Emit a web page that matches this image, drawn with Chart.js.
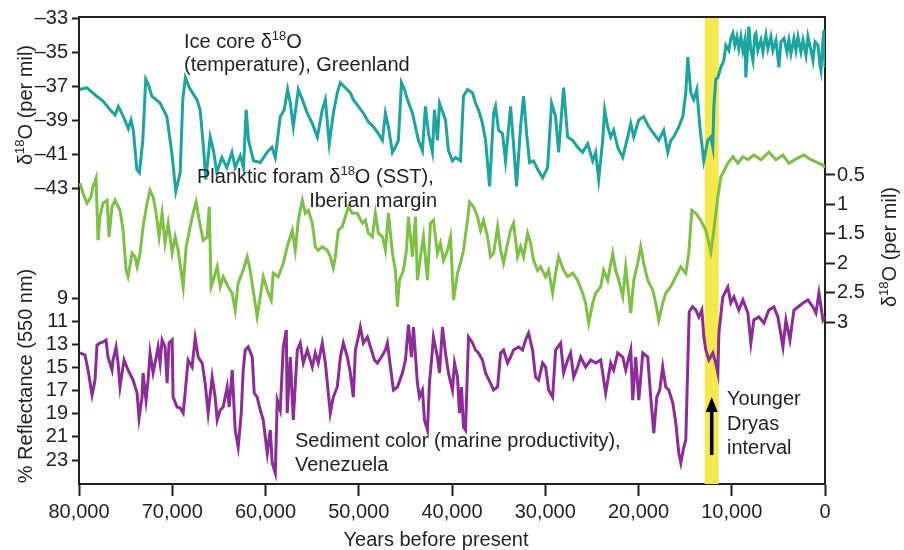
<!DOCTYPE html>
<html>
<head>
<meta charset="utf-8">
<title>Younger Dryas records</title>
<script src="https://cdn.jsdelivr.net/npm/chart.js@4"></script>
<style>
  html, body { margin: 0; padding: 0; background: #fff; }
  #wrap { width: 904px; height: 550px; position: relative; }
</style>
</head>
<body>
<div id="wrap"><canvas id="chart"></canvas></div>
<script>
// Greenland ice core d18O (per mil), years before present
const iceYears = [
  79890, 79170, 78100, 77390, 76670, 76130, 75780, 75240, 74710, 74420,
  74170, 73800, 73520, 73160, 72840, 72560, 72190, 71300, 70580, 70050,
  69620, 69150, 68870, 68590, 68160, 67360, 67010, 66650, 66400, 65930,
  65580, 65220, 64680, 64140, 63600, 63250, 62710, 62360, 62070, 61820,
  61280, 60560, 59840, 59310, 58950, 58420, 57990, 57630, 57340, 57020,
  56480, 56050, 55520, 54980, 54440, 53910, 53580, 53160, 52730, 52300,
  51970, 51440, 50900, 50580, 50040, 49500, 48970, 48430, 47890, 47460,
  47140, 46820, 46390, 46070, 45750, 45420, 45100, 44780, 44240, 43920,
  43600, 43170, 42850, 42520, 42100, 41880, 41560, 41340,
  40700, 40380, 39950, 39630, 39090, 38770, 38340, 37800, 37480, 37160,
  36730, 36400, 35970, 35540, 35330, 35010, 34580, 34260, 33720, 33400,
  33080, 32650, 32320, 32000, 31680, 31250, 30820, 30280, 29750, 29320,
  28890, 28570, 28030, 27600, 27060, 26530, 25990, 25450, 24910, 24590,
  24270, 23840, 23630, 23300, 22980, 22660, 22230, 21690, 21160, 20830,
  20510, 19970, 19440, 18900, 18360, 17830, 17290, 16860, 16540, 16220,
  15680, 15250, 14930, 14710, 14390, 14070, 13750, 13420, 13000, 12570,
  12240, 12030, 11920, 11710, 11490, 11170,
  10850, 10630, 10310, 10100, 9880, 9670, 9450, 9240, 9020, 8810,
  8590, 8490, 8270, 8170, 7950, 7730, 7520, 7410, 7200, 6870,
  6660, 6340, 6120, 5800, 5590, 5260, 4940, 4730, 4400, 4080,
  3870, 3650, 3330, 3120, 2900, 2580, 2360, 2040, 1830, 1510,
  1290, 1070, 750, 540, 430, 220, 110, 0
];
const iceD18O = [
  -37.2, -37.1, -37.6, -37.9, -38.4, -38.7, -38.2, -38.8, -39.5, -39.0,
  -39.6, -41.9, -42.1, -40.2, -36.6, -36.9, -37.6, -38.0, -38.8, -40.9,
  -43.2, -42.1, -37.8, -36.5, -37.1, -37.8, -38.4, -40.6, -42.5, -40.0,
  -40.8, -42.1, -41.2, -41.8, -40.9, -41.8, -41.1, -41.8, -38.4, -40.2,
  -41.4, -41.5, -40.9, -40.6, -41.2, -38.8, -38.4, -37.2, -38.0, -39.4,
  -37.2, -37.8, -38.6, -39.2, -40.0, -38.4, -37.8, -40.4, -38.6, -37.4,
  -36.8, -37.1, -37.4, -37.8, -38.2, -38.6, -39.1, -39.4, -39.8, -40.2,
  -38.6, -39.4, -40.9, -40.6, -40.2, -36.8, -37.2, -37.8, -38.6, -39.4,
  -40.2, -40.8, -38.2, -39.8, -40.9, -38.4, -40.2, -38.0,
  -39.0, -40.8, -41.4, -41.2, -41.4, -37.6, -37.2, -37.4, -38.0, -38.4,
  -39.2, -40.2, -42.9, -38.6, -38.2, -39.6, -39.8, -41.4, -38.2, -40.4,
  -42.9, -39.4, -37.6, -39.8, -41.5, -41.4, -41.9, -42.4, -41.8, -38.0,
  -38.8, -40.9, -37.1, -40.0, -40.2, -40.6, -40.9, -40.4, -41.4, -40.9,
  -42.5, -40.2, -38.4, -39.4, -40.0, -39.6, -40.6, -41.2, -40.0, -39.2,
  -40.0, -39.0, -38.8, -39.4, -39.8, -40.2, -39.6, -40.9, -40.2, -40.0,
  -39.4, -38.8, -37.4, -35.3, -37.4, -37.8, -37.2, -39.4, -41.4, -40.2,
  -40.0, -40.6, -38.2, -36.6, -36.5, -35.9,
  -35.5, -34.6, -34.9, -34.2, -33.9, -34.6, -34.1, -34.8, -34.1, -34.9,
  -34.3, -36.5, -34.6, -33.5, -34.9, -35.5, -34.0, -33.9, -34.9, -34.3,
  -35.0, -34.0, -34.8, -34.1, -34.9, -34.3, -35.9, -34.4, -34.2, -35.0,
  -34.3, -35.1, -34.2, -34.9, -34.1, -35.0, -34.3, -35.2, -34.1, -34.9,
  -35.5, -34.4, -34.6, -35.8, -36.1, -34.3, -33.7, -35.9
];

// Iberian margin planktic foram d18O (per mil)
const foramYears = [
  79890, 79570, 79140, 78710, 78500, 78170, 77960, 77750, 77420, 76990,
  76780, 76460, 76130, 75600, 75270, 74950, 74740, 74310, 73990, 73770,
  73450, 73130, 72700, 72380, 72050, 71730, 71410, 71090, 70770, 70440,
  70010, 69690, 69370, 68830, 68510, 68080, 67760, 67440, 67110, 66680,
  66260, 66040, 65830, 65610, 65180, 64860, 64540, 64000, 63570, 63250,
  62930, 62390, 61960, 61640, 61320, 60890, 60560, 60240, 59810, 59380,
  59170, 58630, 58090, 57670, 57130, 56810, 56480, 56050, 55730, 55410,
  54980, 54660, 54340, 53910, 53370, 53050, 52730, 52510, 52190, 51760,
  51440, 51110, 50680, 50150, 49610, 49290, 48970, 48540, 48220, 47890,
  47460, 47140, 46820, 46390, 46070, 45850, 45640, 45210, 44890, 44670,
  44240, 43920, 43710, 43380, 43060, 42630, 42310, 41990, 41560, 41240,
  40910, 40480, 40160, 39840, 39410, 39090, 38770, 38340, 38120, 37690,
  37260, 36940, 36620, 36190, 35870, 35540, 35110, 34790, 34470, 34040,
  33720, 33400, 32970, 32650, 32320, 31890, 31570, 31250, 30820, 30500,
  29960, 29640, 29210, 28890, 28570, 28030, 27600, 27060, 26530, 25990,
  25670, 25340, 24910, 24590, 24050, 23730, 23300, 22770, 22450, 22120,
  21690, 21370, 20830, 20510, 20080, 19760, 19440, 19010, 18470, 18150,
  17830, 17400, 17080, 16540, 16000, 15460, 14930, 14610, 14280, 13850,
  13320, 12780, 12240, 11920, 11490, 11170, 10960, 10420, 9880, 9340,
  8810, 8270, 7630, 6870, 6020, 5260, 4510, 3870, 2900, 2260,
  1510, 220, 0
];
const foramD18O = [
  0.64, 0.81, 0.98, 0.87, 0.70, 0.55, 1.61, 1.21, 0.98, 0.93,
  1.55, 1.04, 0.93, 1.10, 1.44, 2.12, 2.23, 1.83, 1.89, 2.06,
  1.83, 1.38, 0.98, 0.76, 0.87, 1.15, 1.55, 1.15, 1.66, 1.32,
  1.83, 1.55, 1.78, 2.40, 1.72, 1.38, 1.15, 0.96, 1.27, 1.61,
  1.55, 1.04, 2.40, 2.29, 2.06, 2.40, 2.23, 2.40, 2.51, 2.80,
  2.34, 2.12, 1.89, 2.12, 2.46, 2.91, 2.57, 2.23, 2.46, 2.63,
  2.17, 2.23, 2.00, 1.72, 1.44, 1.78, 1.27, 0.93, 1.15, 1.10,
  1.32, 1.72, 1.78, 1.72, 1.78, 1.89, 2.08, 1.89, 1.44, 1.38,
  1.21, 1.04, 1.15, 1.15, 1.32, 1.27, 1.49, 1.55, 1.15, 1.49,
  1.55, 1.78, 1.15, 1.83, 2.12, 2.74, 2.29, 2.12, 1.78, 1.21,
  1.89, 1.21, 2.29, 1.89, 1.55, 2.29, 1.32, 1.27, 1.83, 1.66,
  1.95, 1.78, 1.55, 2.63, 2.17, 2.00, 1.78, 1.27, 0.96, 1.04,
  1.21, 1.44, 1.27, 1.55, 1.89, 1.83, 1.38, 1.78, 2.00, 1.66,
  1.44, 1.32, 1.89, 1.72, 1.89, 1.49, 1.66, 1.95, 2.12, 2.06,
  2.23, 2.12, 2.51, 2.17, 1.89, 2.12, 2.23, 2.17, 2.29, 2.51,
  2.68, 3.02, 2.68, 2.51, 2.40, 2.12, 2.29, 1.83, 2.12, 2.29,
  2.57, 2.06, 2.85, 2.29, 2.00, 1.72, 2.00, 2.29, 2.46, 2.68,
  2.97, 2.68, 2.51, 2.40, 2.23, 2.06, 2.17, 1.83, 1.10, 1.15,
  1.27, 1.44, 1.81, 1.44, 0.87, 0.53, 0.47, 0.30, 0.19, 0.30,
  0.19, 0.24, 0.16, 0.24, 0.11, 0.24, 0.16, 0.30, 0.21, 0.16,
  0.24, 0.33, 0.38
];

// Venezuela sediment colour, % reflectance at 550 nm
const sedYears = [
  79890, 79360, 79030, 78600, 78280, 78070, 77750, 77420, 77100, 76890,
  76460, 76350, 76030, 75810, 75600, 75170, 74740, 74200, 73770, 73560,
  73240, 73130, 72810, 72590, 72380, 72050, 71840, 71520, 71300, 71090,
  70770, 70550, 70340, 70010, 69910, 69480, 69150, 68830, 68620, 68300,
  67870, 67540, 67220, 66790, 66470, 66150, 65720, 65400, 65180, 64860,
  64540, 64110, 63890, 63570, 63250, 62930, 62600, 62390, 62170, 61850,
  61420, 61210, 60890, 60560, 60240, 59810, 59490, 59280, 58950, 58740,
  58420, 58090, 57770, 57670, 57340, 57020, 56590, 56270, 55950, 55520,
  54980, 54660, 54340, 53910, 53580, 53050, 52730, 52300, 51970, 51650,
  51220, 50900, 50580, 50360, 50040, 49830, 49500, 49070, 48640, 48320,
  48000, 47570, 47140, 46930, 46600, 46280, 45850, 45320, 44990, 44670,
  44350, 44130, 43710, 43490, 43170, 42950, 42630, 42420, 42100, 41990,
  41560, 41340, 41020, 40700, 40380, 39950, 39730, 39410, 39200, 38980,
  38770, 38550, 38230, 37800, 37480, 37160, 36730, 36400, 35870, 35540,
  35110, 34790, 34470, 34040, 33720, 33400, 32860, 32430, 32110, 31790,
  31360, 31040, 30710, 30280, 29960, 29640, 29210, 28890, 28350, 28030,
  27600, 27280, 26950, 26530, 26200, 25670, 25130, 24590, 24050, 23520,
  22980, 22660, 22230, 21690, 21370, 20830, 20620, 20300, 19970, 19540,
  19010, 18690, 18360, 18040, 17720, 17400, 17080, 16750, 16320, 16000,
  15680, 15460, 15140, 14930, 14710, 14560, 14210, 13850, 13530, 13210,
  12990, 12780, 12460, 12030, 11710, 11490, 11380, 10960, 10420, 10100,
  9770, 9240, 8810, 8270, 7950, 7630, 7090, 6550, 6020, 5480,
  5050, 4510, 4190, 3760, 3330, 2900, 2360, 1830, 1290, 970,
  650, 220, 0
];
const sedReflectance = [
  13.75, 13.93, 15.22, 17.38, 16.09, 13.06, 12.89, 12.80, 12.63, 14.10,
  15.22, 14.36, 13.23, 14.62, 16.69, 14.36, 15.22, 16.09, 17.21, 19.37,
  17.56, 15.48, 17.82, 16.09, 13.75, 15.48, 14.62, 13.23, 14.62, 12.63,
  13.23, 16.35, 12.89, 12.63, 17.56, 18.42, 18.51, 18.94, 17.21, 14.36,
  14.96, 12.46, 14.10, 14.62, 16.35, 18.94, 15.83, 17.56, 19.54, 18.68,
  18.42, 16.69, 18.42, 15.22, 20.41, 21.88, 18.94, 15.22, 13.49, 13.23,
  14.10, 17.21, 17.56, 18.68, 19.54, 22.40, 20.41, 23.26, 24.12, 17.82,
  18.68, 13.23, 11.77, 18.94, 14.10, 19.54, 13.49, 12.89, 14.62, 13.49,
  14.96, 13.75, 14.62, 12.89, 14.62, 18.94, 17.56, 16.69, 14.10, 12.89,
  14.10, 15.48, 17.56, 13.49, 12.37, 11.51, 12.89, 12.37, 13.49, 14.36,
  14.62, 14.10, 13.49, 12.89, 14.96, 16.95, 16.69, 15.48, 14.36, 11.30,
  14.10, 11.51, 16.35, 17.56, 16.95, 19.54, 20.41, 16.35, 13.49, 12.37,
  14.10, 15.48, 11.51, 13.75, 15.48, 16.95, 14.62, 15.83, 18.94, 16.69,
  20.15, 20.41, 12.37, 12.89, 13.49, 13.75, 14.36, 15.48, 16.35, 16.95,
  16.69, 13.75, 13.49, 14.62, 14.10, 13.49, 13.23, 13.49, 12.63, 12.02,
  13.49, 15.83, 16.09, 14.62, 14.96, 16.95, 17.56, 13.49, 12.89, 15.48,
  14.36, 13.75, 15.83, 14.96, 14.10, 14.96, 14.36, 14.62, 14.36, 17.21,
  14.62, 15.22, 13.75, 14.10, 15.22, 13.49, 17.82, 14.10, 17.82, 13.75,
  14.10, 17.56, 20.67, 17.56, 16.95, 14.96, 16.69, 16.95, 18.07, 19.80,
  22.40, 23.26, 21.88, 21.27, 14.62, 10.20, 9.75, 10.04, 10.64, 10.04,
  12.37, 13.49, 14.36, 13.75, 14.62, 15.48, 12.02, 8.91, 8.05, 9.43,
  8.91, 10.04, 9.17, 10.30, 12.89, 10.90, 10.64, 11.16, 10.04, 9.78,
  10.64, 13.23, 10.90, 12.63, 10.04, 9.78, 9.43, 9.17, 9.78, 10.30,
  8.57, 10.90, 10.60
];

// axis ticks
const yearTicks = [80000, 70000, 60000, 50000, 40000, 30000, 20000, 10000, 0];
const iceTicks = [-33, -35, -37, -39, -41, -43];
const foramTicks = [0.5, 1, 1.5, 2, 2.5, 3];
const reflTicks = [9, 11, 13, 15, 17, 19, 21, 23];

// Younger Dryas interval (years BP)
const youngerDryas = [12900, 11400];

const FONT = '"Liberation Sans", Arial, Helvetica, sans-serif';
const INK = '#231f20';

Chart.defaults.font.family = FONT;
Chart.defaults.font.size = 20;
Chart.defaults.color = INK;

function pairs(xs, ys) {
  return xs.map((x, i) => ({ x: x, y: ys[i] }));
}

function fixedTicks(list) {
  return function(scale) {
    scale.ticks = list.map(v => ({ value: v }));
  };
}

// draws text made of pieces, some of them superscript
function drawRich(ctx, parts, x, y, align) {
  let width = 0;
  parts.forEach(p => {
    ctx.font = p[1] ? '13px ' + FONT : '20px ' + FONT;
    width += ctx.measureText(p[0]).width;
  });
  let cx = align === 'center' ? x - width / 2 : (align === 'right' ? x - width : x);
  ctx.textAlign = 'left';
  ctx.textBaseline = 'alphabetic';
  parts.forEach(p => {
    ctx.font = p[1] ? '13px ' + FONT : '20px ' + FONT;
    ctx.fillText(p[0], cx, p[1] ? y - 8 : y);
    cx += ctx.measureText(p[0]).width;
  });
}

const d18O = [['\u03b4'], ['18', true], ['O (per mil)']];

const decorations = {
  id: 'decorations',
  afterLayout(chart) {
    // the reflectance axis shares the left side with the ice core axis;
    // widen its box so its labels are not clipped
    const refl = chart.scales.yRefl;
    refl.left = 0;
  },
  beforeDatasetsDraw(chart) {
    const ctx = chart.ctx;
    const area = chart.chartArea;
    const xs = chart.scales.x;
    const x1 = xs.getPixelForValue(youngerDryas[0]);
    const x2 = xs.getPixelForValue(youngerDryas[1]);
    ctx.save();
    ctx.fillStyle = '#f4e84c';
    ctx.fillRect(x1, area.top, x2 - x1, area.bottom - area.top);
    ctx.restore();
  },
  afterDraw(chart) {
    const ctx = chart.ctx;
    const area = chart.chartArea;
    const xs = chart.scales.x;
    ctx.save();

    // top frame line
    ctx.strokeStyle = INK;
    ctx.lineWidth = 2;
    ctx.beginPath();
    ctx.moveTo(area.left, area.top);
    ctx.lineTo(area.right + 1, area.top);
    ctx.stroke();

    ctx.fillStyle = INK;

    // series labels
    drawRich(ctx, [['Ice core \u03b4'], ['18', true], ['O']], 184, 48, 'left');
    drawRich(ctx, [['(temperature), Greenland']], 184, 71, 'left');
    drawRich(ctx, [['Planktic foram \u03b4'], ['18', true], ['O (SST),']], 197, 183, 'left');
    drawRich(ctx, [['Iberian margin']], 437, 207, 'right');
    drawRich(ctx, [['Sediment color (marine productivity),']], 295, 447, 'left');
    drawRich(ctx, [['Venezuela']], 295, 471, 'left');
    drawRich(ctx, [['Younger']], 727, 405, 'left');
    drawRich(ctx, [['Dryas']], 727, 430, 'left');
    drawRich(ctx, [['interval']], 727, 454, 'left');

    // arrow pointing at the Younger Dryas band
    const ax = xs.getPixelForValue((youngerDryas[0] + youngerDryas[1]) / 2);
    ctx.strokeStyle = '#000';
    ctx.fillStyle = '#000';
    ctx.lineWidth = 3.5;
    ctx.beginPath();
    ctx.moveTo(ax, 455);
    ctx.lineTo(ax, 408);
    ctx.stroke();
    ctx.beginPath();
    ctx.moveTo(ax, 397);
    ctx.lineTo(ax - 6, 412);
    ctx.lineTo(ax + 6, 412);
    ctx.closePath();
    ctx.fill();

    // axis titles
    ctx.fillStyle = INK;
    drawRich(ctx, [['Years before present']], 436, 546, 'center');

    ctx.save();
    ctx.translate(32, 105);
    ctx.rotate(-Math.PI / 2);
    drawRich(ctx, d18O, 0, 0, 'center');
    ctx.restore();

    ctx.save();
    ctx.translate(32, 376);
    ctx.rotate(-Math.PI / 2);
    drawRich(ctx, [['% Reflectance (550 nm)']], 0, 0, 'center');
    ctx.restore();

    ctx.save();
    ctx.translate(896, 247);
    ctx.rotate(-Math.PI / 2);
    drawRich(ctx, d18O, 0, 0, 'center');
    ctx.restore();

    ctx.restore();
  }
};

function axisStyle(tickLength) {
  return {
    grid: { drawOnChartArea: false, drawTicks: true, tickLength: tickLength, tickWidth: 2, tickColor: INK },
    border: { display: true, color: INK, width: 2 }
  };
}

const ctx = document.getElementById('chart').getContext('2d');
new Chart(ctx, {
  type: 'line',
  data: {
    datasets: [
      {
        label: 'Ice core d18O, Greenland',
        data: pairs(iceYears, iceD18O),
        yAxisID: 'yIce',
        borderColor: '#1aa59e',
        borderWidth: 3,
        pointRadius: 0,
        tension: 0
      },
      {
        label: 'Planktic foram d18O, Iberian margin',
        data: pairs(foramYears, foramD18O),
        yAxisID: 'yForam',
        borderColor: '#7dc144',
        borderWidth: 3,
        pointRadius: 0,
        tension: 0
      },
      {
        label: 'Sediment color, Venezuela',
        data: pairs(sedYears, sedReflectance),
        yAxisID: 'yRefl',
        borderColor: '#8b2c98',
        borderWidth: 3,
        pointRadius: 0,
        tension: 0
      }
    ]
  },
  options: {
    responsive: true,
    maintainAspectRatio: false,
    animation: false,
    layout: { padding: { top: 17, left: 0, right: 0, bottom: 0 } },
    plugins: {
      legend: { display: false },
      tooltip: { enabled: false }
    },
    scales: {
      x: Object.assign({
        type: 'linear',
        min: 0,
        max: 80000,
        reverse: true,
        afterBuildTicks: fixedTicks(yearTicks),
        afterFit: s => { s.height = 66; },
        ticks: {
          padding: 4,
          maxRotation: 0,
          autoSkip: false,
          callback: v => v.toLocaleString('en-US')
        }
      }, axisStyle(12)),
      yIce: Object.assign({
        type: 'linear',
        position: 'left',
        weight: 1,
        min: -60.41,
        max: -32.94,
        afterBuildTicks: fixedTicks(iceTicks),
        afterFit: s => { s.width = 79; },
        ticks: { padding: 4, callback: v => '\u2013' + Math.abs(v) }
      }, axisStyle(7)),
      yRefl: Object.assign({
        type: 'linear',
        position: 'left',
        weight: 0,
        reverse: true,
        min: -15.28,
        max: 25.07,
        afterBuildTicks: fixedTicks(reflTicks),
        afterFit: s => { s.width = 0; },
        ticks: { padding: 4, autoSkip: false, callback: v => String(v) }
      }, axisStyle(7)),
      yForam: Object.assign({
        type: 'linear',
        position: 'right',
        reverse: true,
        min: -2.187,
        max: 5.755,
        afterBuildTicks: fixedTicks(foramTicks),
        afterFit: s => { s.width = 79; },
        ticks: { padding: 2, callback: v => String(v) }
      }, axisStyle(10))
    }
  },
  plugins: [decorations]
});
</script>
</body>
</html>
